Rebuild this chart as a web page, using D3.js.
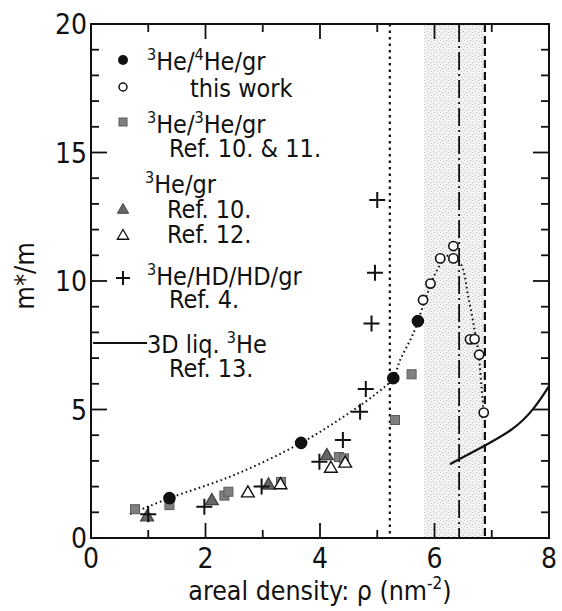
<!DOCTYPE html>
<html>
<head>
<meta charset="utf-8">
<script src="https://cdn.jsdelivr.net/npm/d3@7"></script>
<style>
  body { margin: 0; background: #fff; }
  text { font-family: "DejaVu Sans Condensed", "DejaVu Sans", sans-serif; fill: #111; }
</style>
</head>
<body>
<div id="chart"></div>
<script>
// 3He/4He/gr, this work (filled = lower density, open = higher density)
var filledCircles = [[1.37, 1.55], [3.67, 3.70], [5.28, 6.22], [5.71, 8.44]];
var openCircles = [[5.80, 9.26], [5.93, 9.90], [6.10, 10.88], [6.33, 11.36], [6.33, 10.88],
                   [6.62, 7.73], [6.70, 7.74], [6.78, 7.13], [6.86, 4.88]];
// 3He/3He/gr, Ref. 10 & 11
var graySquares = [[0.77, 1.12], [1.37, 1.28], [2.33, 1.65], [2.40, 1.80], [3.32, 2.18],
                   [4.33, 3.15], [4.42, 3.10], [5.31, 4.59], [5.60, 6.37]];
// 3He/gr, Ref. 10 (filled) and Ref. 12 (open)
var filledTriangles = [[0.98, 0.85], [2.11, 1.48], [3.10, 2.09], [4.12, 3.23]];
var openTriangles = [[2.74, 1.78], [3.31, 2.10], [4.19, 2.74], [4.44, 2.94]];
// 3He/HD/HD/gr, Ref. 4
var crosses = [[1.00, 0.92], [1.98, 1.22], [2.98, 2.00], [3.99, 2.97], [4.40, 3.81],
               [4.70, 4.91], [4.80, 5.80], [4.90, 8.35], [4.96, 10.32], [5.00, 13.15]];
// 3D liquid 3He, Ref. 13
var liquidLine = [[6.27, 2.87], [6.79, 3.49], [7.38, 4.20], [7.73, 4.98], [8.00, 5.91]];
// guide-to-the-eye dotted curve through this work's points
var guideCurve = [[0.68, 0.93], [1.37, 1.55], [2.50, 2.45], [3.67, 3.70], [4.50, 4.85],
                  [5.00, 5.65], [5.28, 6.22], [5.40, 6.93], [5.63, 7.96], [5.85, 9.35],
                  [6.05, 10.45], [6.25, 11.0], [6.45, 10.7], [6.59, 9.39], [6.70, 8.09],
                  [6.77, 7.19], [6.82, 5.89], [6.86, 4.88]];
// vertical markers and the shaded band
var dottedX = 5.22, dashDotX = 6.43, dashedX = 6.88;
var bandX = [5.82, 6.86];

var xTicks = [0, 2, 4, 6, 8];
var yTicks = [0, 5, 10, 15, 20];

var W = 562, H = 611;
var margin = {top: 24, right: 13, bottom: 73, left: 91};
var x = d3.scaleLinear().domain([0, 8]).range([margin.left, W - margin.right]);
var y = d3.scaleLinear().domain([0, 20]).range([H - margin.bottom, margin.top]);

var svg = d3.select("#chart").append("svg").attr("width", W).attr("height", H);

// stipple pattern for the band
var defs = svg.append("defs");
var pat = defs.append("pattern").attr("id", "stipple")
  .attr("patternUnits", "userSpaceOnUse").attr("width", 6).attr("height", 6);
pat.append("rect").attr("width", 6).attr("height", 6).attr("fill", "#f3f3f3");
[[1, 1], [4, 2], [2, 4], [5, 5]].forEach(function(p) {
  pat.append("rect").attr("x", p[0]).attr("y", p[1]).attr("width", 1).attr("height", 1).attr("fill", "#bdbdbd");
});

svg.append("rect")
  .attr("x", x(bandX[0])).attr("y", y(20))
  .attr("width", x(bandX[1]) - x(bandX[0])).attr("height", y(0) - y(20))
  .attr("fill", "url(#stipple)");

// vertical lines
function vline(v, dash, w) {
  svg.append("line")
    .attr("x1", x(v)).attr("x2", x(v)).attr("y1", y(20)).attr("y2", y(0))
    .attr("stroke", "#111").attr("stroke-width", w).attr("stroke-dasharray", dash);
}
vline(dottedX, "2.5,4", 2.2);
vline(dashDotX, "18,4,2,4", 1.8);
vline(dashedX, "8,4", 2.2);

// dotted guide curve
var line = d3.line().x(function(d) { return x(d[0]); }).y(function(d) { return y(d[1]); });
svg.append("path")
  .datum(guideCurve)
  .attr("d", line.curve(d3.curveCatmullRom.alpha(0.5)))
  .attr("fill", "none").attr("stroke", "#111").attr("stroke-width", 2)
  .attr("stroke-dasharray", "1.6,3").attr("stroke-linecap", "butt");

// liquid 3He line
svg.append("path")
  .datum(liquidLine)
  .attr("d", d3.line().x(function(d) { return x(d[0]); }).y(function(d) { return y(d[1]); }).curve(d3.curveBasis))
  .attr("fill", "none").attr("stroke", "#111").attr("stroke-width", 2.2);

// frame and ticks
var g = svg.append("g");
g.append("rect")
  .attr("x", x(0)).attr("y", y(20)).attr("width", x(8) - x(0)).attr("height", y(0) - y(20))
  .attr("fill", "none").attr("stroke", "#111").attr("stroke-width", 2);

d3.range(0, 9).forEach(function(v) {
  var len = (v % 2 === 0) ? 15 : 8;
  g.append("line").attr("x1", x(v)).attr("x2", x(v)).attr("y1", y(0)).attr("y2", y(0) - len)
    .attr("stroke", "#111").attr("stroke-width", 1.8);
  g.append("line").attr("x1", x(v)).attr("x2", x(v)).attr("y1", y(20)).attr("y2", y(20) + len)
    .attr("stroke", "#111").attr("stroke-width", 1.8);
});
d3.range(0, 21).forEach(function(v) {
  var len = (v % 5 === 0) ? 16 : 8;
  g.append("line").attr("x1", x(0)).attr("x2", x(0) + len).attr("y1", y(v)).attr("y2", y(v))
    .attr("stroke", "#111").attr("stroke-width", 1.8);
  g.append("line").attr("x1", x(8)).attr("x2", x(8) - len).attr("y1", y(v)).attr("y2", y(v))
    .attr("stroke", "#111").attr("stroke-width", 1.8);
});

g.selectAll(".xl").data(xTicks).enter().append("text")
  .attr("x", function(d) { return x(d); }).attr("y", y(0) + 30)
  .attr("text-anchor", "middle").attr("font-size", 28).text(function(d) { return d; });
g.selectAll(".yl").data(yTicks).enter().append("text")
  .attr("x", x(0) - 4).attr("y", function(d) { return y(d) + 10; })
  .attr("text-anchor", "end").attr("font-size", 28).text(function(d) { return d; });

// axis titles
var xt = svg.append("text").attr("x", x(4)).attr("y", 600).attr("text-anchor", "middle").attr("font-size", 26.5);
xt.append("tspan").text("areal density: ρ (nm");
xt.append("tspan").attr("font-size", 17).attr("dy", -11).text("-2");
xt.append("tspan").attr("dy", 11).text(")");
svg.append("text").attr("transform", "translate(34," + y(10.2) + ") rotate(-90)")
  .attr("text-anchor", "middle").attr("font-size", 27).text("m*/m");

// markers
function drawCircles(data, filled) {
  svg.selectAll(null).data(data).enter().append("circle")
    .attr("cx", function(d) { return x(d[0]); }).attr("cy", function(d) { return y(d[1]); })
    .attr("r", filled ? 5.5 : 4.6)
    .attr("fill", filled ? "#111" : "#fff").attr("stroke", "#111").attr("stroke-width", 1.6);
}
function drawSquares(data) {
  svg.selectAll(null).data(data).enter().append("rect")
    .attr("x", function(d) { return x(d[0]) - 4.5; }).attr("y", function(d) { return y(d[1]) - 4.5; })
    .attr("width", 9).attr("height", 9)
    .attr("fill", "#808080").attr("stroke", "#5a5a5a").attr("stroke-width", 1);
}
var tri = d3.symbol().type(d3.symbolTriangle).size(70);
function drawTriangles(data, filled) {
  svg.selectAll(null).data(data).enter().append("path")
    .attr("d", tri)
    .attr("transform", function(d) { return "translate(" + x(d[0]) + "," + (y(d[1]) + 1) + ")"; })
    .attr("fill", filled ? "#666" : "#fff").attr("stroke", filled ? "#444" : "#111").attr("stroke-width", 1.4);
}
function drawCrosses(data) {
  svg.selectAll(null).data(data).enter().append("path")
    .attr("d", function(d) {
      var cx = x(d[0]), cy = y(d[1]);
      return "M" + (cx - 8) + "," + cy + "H" + (cx + 8) + "M" + cx + "," + (cy - 8) + "V" + (cy + 8);
    })
    .attr("stroke", "#111").attr("stroke-width", 2).attr("fill", "none");
}

drawSquares(graySquares);
drawTriangles(filledTriangles, true);
drawTriangles(openTriangles, false);
drawCrosses(crosses);
drawCircles(filledCircles, true);
drawCircles(openCircles, false);

// legend
var mx = 123;
svg.append("circle").attr("cx", mx).attr("cy", 60).attr("r", 5).attr("fill", "#111");
svg.append("circle").attr("cx", mx).attr("cy", 87).attr("r", 4).attr("fill", "#fff").attr("stroke", "#111").attr("stroke-width", 1.5);
svg.append("rect").attr("x", mx - 4).attr("y", 118).attr("width", 8).attr("height", 8).attr("fill", "#808080").attr("stroke", "#5a5a5a");
svg.append("path").attr("d", tri.size(55)).attr("transform", "translate(" + mx + ",210)").attr("fill", "#666").attr("stroke", "#444");
svg.append("path").attr("d", tri.size(55)).attr("transform", "translate(" + mx + ",236)").attr("fill", "#fff").attr("stroke", "#111").attr("stroke-width", 1.3);
svg.append("path").attr("d", "M" + (mx - 7) + ",278H" + (mx + 7) + "M" + mx + ",271V285").attr("stroke", "#111").attr("stroke-width", 2);
svg.append("line").attr("x1", x(0) + 2).attr("x2", 147).attr("y1", 343).attr("y2", 343).attr("stroke", "#111").attr("stroke-width", 2);

// parts: [text, isSuperscript]
function legendText(xp, yp, parts) {
  var t = svg.append("text").attr("x", xp).attr("y", yp).attr("font-size", 25);
  var prevSup = false;
  parts.forEach(function(p) {
    var s = t.append("tspan").text(p[0]);
    if (p[1]) {
      s.attr("font-size", 16).attr("dy", -10);
    } else if (prevSup) {
      s.attr("dy", 10);
    }
    prevSup = !!p[1];
  });
}
legendText(147, 70, [["3", 1], ["He/", 0], ["4", 1], ["He/gr", 0]]);
legendText(190, 97, [["this work", 0]]);
legendText(147, 133, [["3", 1], ["He/", 0], ["3", 1], ["He/gr", 0]]);
legendText(169, 157, [["Ref. 10. & 11.", 0]]);
legendText(145, 193, [["3", 1], ["He/gr", 0]]);
legendText(167, 218, [["Ref. 10.", 0]]);
legendText(167, 243, [["Ref. 12.", 0]]);
legendText(147, 285, [["3", 1], ["He/HD/HD/gr", 0]]);
legendText(169, 308, [["Ref. 4.", 0]]);
legendText(147, 353, [["3D liq. ", 0], ["3", 1], ["He", 0]]);
legendText(169, 377, [["Ref. 13.", 0]]);
</script>
</body>
</html>
